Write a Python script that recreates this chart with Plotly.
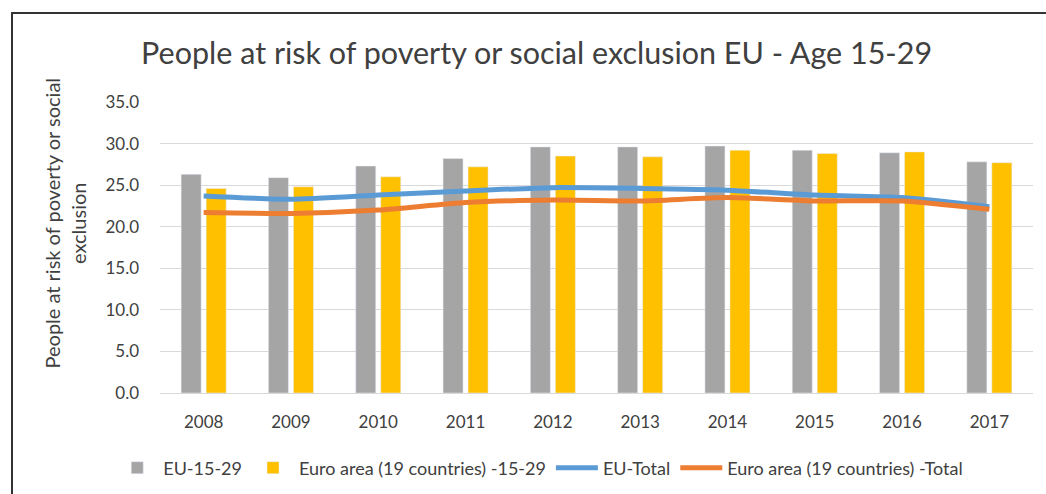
import plotly.graph_objects as go

years = ["2008", "2009", "2010", "2011", "2012", "2013", "2014", "2015", "2016", "2017"]
eu_15_29 = [26.3, 25.9, 27.3, 28.2, 29.6, 29.6, 29.7, 29.2, 28.9, 27.8]
euro_15_29 = [24.6, 24.8, 26.0, 27.2, 28.5, 28.4, 29.2, 28.8, 29.0, 27.7]
eu_total = [23.7, 23.3, 23.8, 24.3, 24.7, 24.6, 24.4, 23.8, 23.5, 22.4]
euro_total = [21.7, 21.6, 22.0, 22.9, 23.2, 23.1, 23.5, 23.1, 23.1, 22.1]
y_ticks = [0, 5, 10, 15, 20, 25, 30, 35]

FONT = "Lato"
TXT = "#404040"

fig = go.Figure()
fig.add_trace(go.Bar(x=years, y=eu_15_29, name="EU-15-29", marker_color="#A5A5A5"))
fig.add_trace(go.Bar(x=years, y=euro_15_29, name="Euro area (19 countries) -15-29", marker_color="#FFC000"))
fig.add_trace(go.Scatter(x=years, y=eu_total, name="EU-Total", mode="lines",
                         line=dict(color="#5B9BD5", width=5, shape="spline", smoothing=0.6)))
fig.add_trace(go.Scatter(x=years, y=euro_total, name="Euro area (19 countries) -Total", mode="lines",
                         line=dict(color="#ED7D31", width=5, shape="spline", smoothing=0.6)))

fig.update_layout(
    width=1046, height=494,
    margin=dict(l=160, r=13, t=102, b=101, autoexpand=False),
    paper_bgcolor="white", plot_bgcolor="white",
    barmode="group", bargap=0.427, bargroupgap=0.2,
    font=dict(family=FONT, color=TXT, size=17),
    title=dict(text="People at risk of poverty or social exclusion EU - Age 15-29",
               x=0.513, xanchor="center", y=0.892, yanchor="middle",
               font=dict(family=FONT, size=30.5, color=TXT)),
    showlegend=True,
    legend=dict(orientation="h", xref="container", yref="container",
                x=0.516, xanchor="center", y=(494 - 468) / 494, yanchor="middle",
                font=dict(family=FONT, size=18, color=TXT), traceorder="normal",
                itemwidth=42),
    xaxis=dict(type="category", showgrid=False, showline=True, linecolor="#D9D9D9", linewidth=1,
               ticks="", tickfont=dict(size=17, color=TXT), ticklabelstandoff=14),
    yaxis=dict(range=[0, 35], tickvals=y_ticks, tickformat=".1f", showgrid=True,
               gridcolor="#D9D9D9", gridwidth=1, zeroline=False, showline=False, ticks="",
               tickfont=dict(size=17, color=TXT), ticklabelstandoff=20),
    shapes=[
        dict(type="line", xref="paper", yref="paper", x0=-149/873, x1=1.02, y0=1 + 89/291, y1=1 + 89/291,
             line=dict(color="#333333", width=2)),
        dict(type="line", xref="paper", yref="paper", x0=-148/873, x1=-148/873, y0=1 + 89/291, y1=-0.5,
             line=dict(color="#333333", width=2)),
    ],
    annotations=[
        dict(text="People at risk of poverty or social<br>exclusion", xref="paper", yref="paper",
             x=-95.5/873, y=(393 - 223) / 291, xanchor="center", yanchor="middle", textangle=-90,
             showarrow=False, font=dict(family=FONT, size=20, color=TXT)),
    ],
)

fig.write_html("out.html")
